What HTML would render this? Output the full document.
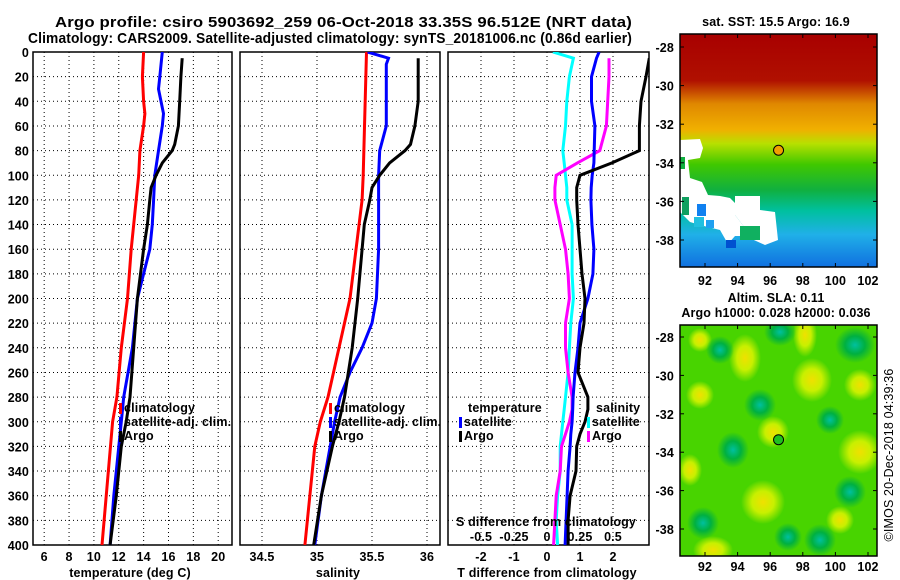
<!DOCTYPE html>
<html><head><meta charset="utf-8">
<style>
html,body{margin:0;padding:0;background:#fff;}
svg{display:block;font-family:"Liberation Sans",sans-serif;font-weight:bold;}
</style></head>
<body>
<svg id="chart" width="900" height="580" viewBox="0 0 900 580" xmlns="http://www.w3.org/2000/svg">
<defs>
<clipPath id="c1"><rect x="33" y="52" width="199" height="493"/></clipPath>
<clipPath id="c2"><rect x="240" y="52" width="200" height="493"/></clipPath>
<clipPath id="c3"><rect x="448" y="52" width="201" height="493"/></clipPath>
<clipPath id="cm1"><rect x="680" y="34" width="197" height="233"/></clipPath>
<clipPath id="cm2"><rect x="680" y="325" width="197" height="231"/></clipPath>
<linearGradient id="sst" x1="0" y1="0" x2="0" y2="1">
<stop offset="0" stop-color="#a80000"/><stop offset="0.2" stop-color="#b01000"/>
<stop offset="0.3" stop-color="#e08800"/><stop offset="0.41" stop-color="#f0b000"/>
<stop offset="0.47" stop-color="#b8e000"/><stop offset="0.56" stop-color="#40c800"/>
<stop offset="0.67" stop-color="#10b040"/><stop offset="0.76" stop-color="#00c0a0"/>
<stop offset="0.86" stop-color="#20b0e8"/><stop offset="1" stop-color="#1070e0"/></linearGradient>
<radialGradient id="yb"><stop offset="0" stop-color="#f0e000"/><stop offset="0.5" stop-color="#c8f000"/><stop offset="1" stop-color="#c8f000" stop-opacity="0"/></radialGradient>
<radialGradient id="tb"><stop offset="0" stop-color="#00c0a0"/><stop offset="0.5" stop-color="#00b040"/><stop offset="1" stop-color="#00b040" stop-opacity="0"/></radialGradient>
</defs>
<g id="root"></g>
</svg>
<script>
// ---- data ----
const depthTClim = [0,20,40,50,60,80,100,120,160,200,240,280,300,400];
const tempClim   = [14.0,13.9,14.0,14.1,14.0,13.7,13.6,13.4,13.0,12.7,12.2,11.85,11.5,10.65];
const depthTSat  = [0,20,30,50,60,80,100,120,140,160,200,240,280,300,320,360,400];
const tempSat    = [15.5,15.3,15.2,15.6,15.5,15.2,14.9,14.8,14.7,14.5,13.5,13.1,12.4,12.2,12.0,11.6,11.3];
const depthTArgo = [5,20,40,60,75,80,90,100,110,120,140,160,200,240,280,300,320,360,400];
const tempArgo   = [17.1,17.0,16.9,16.8,16.5,16.3,15.5,15.0,14.6,14.5,14.3,14.0,13.5,13.2,12.9,12.6,12.2,11.8,11.3];

const depthSClim = [0,100,120,200,280,300,320,400];
const salClim    = [35.45,35.42,35.41,35.3,35.1,35.03,34.98,34.89];
const depthSSat  = [0,5,10,20,60,70,80,100,160,200,220,240,260,280,300,320,360,400];
const salSat     = [35.46,35.65,35.63,35.63,35.63,35.6,35.57,35.56,35.56,35.54,35.5,35.41,35.3,35.21,35.16,35.12,35.04,34.98];
const depthSArgo = [5,40,60,75,80,90,100,110,120,140,160,200,240,280,300,320,360,400];
const salArgo    = [35.92,35.92,35.89,35.85,35.8,35.66,35.57,35.5,35.48,35.43,35.41,35.37,35.32,35.25,35.2,35.14,35.04,34.97];

const depthDiff  = [0,5,20,40,60,80,90,100,110,120,140,160,180,200,220,240,260,280,290,300,310,320,340,360,380,400];
const dSsat  = [0.045,0.2,0.17,0.15,0.14,0.12,0.13,0.14,0.15,0.15,0.19,0.19,0.19,0.2,0.18,0.17,0.16,0.14,0.13,0.12,0.11,0.1,0.1,0.08,0.07,0.08];
const dSargo = [null,0.47,0.47,0.46,0.45,0.4,0.23,0.07,0.06,0.06,0.1,0.14,0.16,0.17,0.14,0.14,0.16,0.19,0.19,0.17,0.14,0.11,0.1,0.07,0.06,0.05];
const dTsat  = [1.58,1.5,1.35,1.35,1.45,1.43,1.42,1.37,1.34,1.33,1.36,1.42,1.39,1.24,1.0,0.94,0.85,0.79,0.78,0.76,0.72,0.7,0.64,0.61,0.58,0.55];
const dTargo = [null,3.1,3.0,2.85,2.8,2.8,1.97,1.0,0.9,0.9,0.94,1.0,1.06,1.15,1.12,1.0,0.94,1.24,1.24,1.15,1.0,0.9,0.88,0.7,0.64,0.64];

const depthTicks = [0,20,40,60,80,100,120,140,160,180,200,220,240,260,280,300,320,340,360,380,400];
const tTicks = [6,8,10,12,14,16,18,20];
const sTicks = [34.5,35,35.5,36];
const dTTicks = [-2,-1,0,1,2];
const dSTicks = [-0.5,-0.25,0,0.25,0.5];
const dSTickLabels = ["-0.5","-0.25","0","0.25","0.5"];
const latTicks = [-28,-30,-32,-34,-36,-38];
const lonTicks = [92,94,96,98,100,102];

// ---- scales ----
const yD = d => 52 + d*(493/400);
const xT = t => 33 + (t-5.1)*12.43;
const xS = s => 240 + (s-34.3)*110;
const xDT = t => 547 + t*33;
const xDS = s => 547 + s*132;
const xLon = l => 705 + (l-92)*16.3;
const yLat1 = l => 47 + (-28-l)*19.3;
const yLat2 = l => 337 + (-28-l)*19.2;

const NS="http://www.w3.org/2000/svg";
const root=document.getElementById('root');
function el(tag,attrs,parent){const e=document.createElementNS(NS,tag);for(const k in attrs)e.setAttribute(k,attrs[k]);(parent||root).appendChild(e);return e;}
function txt(x,y,s,size,anchor,parent){const t=el('text',{x:x,y:y,'font-size':size,'letter-spacing':0.15,'text-anchor':anchor||'middle'},parent);t.textContent=s;return t;}

// titles
let t=txt(343.5,27,"Argo profile: csiro 5903692_259 06-Oct-2018 33.35S 96.512E (NRT data)",15);
t.setAttribute('textLength','577');t.setAttribute('lengthAdjust','spacingAndGlyphs');


t=txt(330,43,"Climatology: CARS2009. Satellite-adjusted climatology: synTS_20181006.nc (0.86d earlier)",15);
t.setAttribute('textLength','604');t.setAttribute('lengthAdjust','spacingAndGlyphs');



function panel(name,x0,x1,xTicks,xf){
  const g=el('g',{});
  
  
  depthTicks.forEach(d=>{el('line',{x1:x0,x2:x1,y1:yD(d),y2:yD(d),stroke:'#000','stroke-width':1,'stroke-dasharray':'1,3'},g);});
  xTicks.forEach(v=>{el('line',{x1:xf(v),x2:xf(v),y1:52,y2:545,stroke:'#000','stroke-width':1,'stroke-dasharray':'1,3'},g);});
  el('rect',{x:x0,y:52,width:x1-x0,height:493,fill:'none',stroke:'#000','stroke-width':1.5},g);
  return g;
}
function line(g,depths,vals,xf,color,clip,name){
  let pts=[];depths.forEach((d,i)=>{if(vals[i]!==null&&vals[i]!==undefined)pts.push(xf(vals[i]).toFixed(1)+','+yD(d).toFixed(1));});
  const p=el('polyline',{points:pts.join(' '),fill:'none',stroke:color,'stroke-width':3,'clip-path':'url(#'+clip+')'},g);
  
  
}
function legend(g,x,y,items){
  items.forEach((it,i)=>{
    el('rect',{x:x,y:y+i*14-9,width:3,height:11,fill:it[1]},g);
    txt(x+5,y+i*14,it[0],12.5,'start',g);
  });
}

// panel 1
const g1=panel('temperature-panel',33,232,tTicks,xT);
depthTicks.forEach(d=>txt(29,yD(d)+5,String(d),12.5,'end',g1));
tTicks.forEach(v=>txt(xT(v),561,String(v),12.5,'middle',g1));
txt(130,577,"temperature (deg C)",12.5,'middle',g1);
line(g1,depthTClim,tempClim,xT,'#ff0000','c1','temp-climatology-line');
line(g1,depthTSat,tempSat,xT,'#0000ff','c1','temp-satellite-line');
line(g1,depthTArgo,tempArgo,xT,'#000','c1','temp-argo-line');
legend(g1,119,412,[["climatology","#ff0000"],["satellite-adj. clim.","#0000ff"],["Argo","#000"]]);

// panel 2
const g2=panel('salinity-panel',240,440,sTicks,xS);
sTicks.forEach(v=>txt(xS(v),561,String(v),12.5,'middle',g2));
txt(338,577,"salinity",12.5,'middle',g2);
line(g2,depthSClim,salClim,xS,'#ff0000','c2','sal-climatology-line');
line(g2,depthSSat,salSat,xS,'#0000ff','c2','sal-satellite-line');
line(g2,depthSArgo,salArgo,xS,'#000','c2','sal-argo-line');
legend(g2,329,412,[["climatology","#ff0000"],["satellite-adj. clim.","#0000ff"],["Argo","#000"]]);

// panel 3
const g3=panel('difference-panel',448,649,dTTicks,xDT);
dTTicks.forEach(v=>txt(xDT(v),561,String(v),12.5,'middle',g3));
txt(547,577,"T difference from climatology",12.5,'middle',g3);
line(g3,depthDiff,dSsat,xDS,'#00ffff','c3','sal-diff-satellite-line');
line(g3,depthDiff,dSargo,xDS,'#ff00ff','c3','sal-diff-argo-line');
line(g3,depthDiff,dTsat,xDT,'#0000ff','c3','temp-diff-satellite-line');
line(g3,depthDiff,dTargo,xDT,'#000','c3','temp-diff-argo-line');
txt(546,526,"S difference from climatology",12.5,'middle',g3);
dSTicks.forEach((v,i)=>txt(xDS(v),541,dSTickLabels[i],12.5,'middle',g3));
txt(468,412,"temperature",12.5,'start',g3);
legend(g3,459,426,[["satellite","#0000ff"],["Argo","#000"]]);
txt(596,412,"salinity",12.5,'start',g3);
legend(g3,587,426,[["satellite","#00ffff"],["Argo","#ff00ff"]]);

// maps
function mapAxes(g,top,bottom,yl,labelY){
  el('rect',{x:680,y:top,width:197,height:bottom-top,fill:'none',stroke:'#000','stroke-width':1.5},g);
  latTicks.forEach(l=>{txt(674,yl(l)+5,String(l),12.5,'end',g);
    el('line',{x1:680,x2:684,y1:yl(l),y2:yl(l),stroke:'#000'},g);el('line',{x1:873,x2:877,y1:yl(l),y2:yl(l),stroke:'#000'},g);});
  lonTicks.forEach(l=>{txt(xLon(l),labelY,String(l),12.5,'middle',g);
    el('line',{x1:xLon(l),x2:xLon(l),y1:bottom,y2:bottom-4,stroke:'#000'},g);el('line',{x1:xLon(l),x2:xLon(l),y1:top,y2:top+4,stroke:'#000'},g);});
}
const m1=el('g',{});


txt(776,26,"sat. SST: 15.5 Argo: 16.9",12.5,'middle',m1);
const mi=el('g',{'clip-path':'url(#cm1)'},m1);
el('rect',{x:680,y:34,width:197,height:233,fill:'url(#sst)'},mi);
el('path',{d:'M680,140 L700,139 L703,148 L700,158 L688,160 L690,178 L702,182 L708,195 L720,196 L730,198 L737,205 L735,215 L745,228 L745,236 L735,236 L728,244 L720,230 L700,225 L690,222 L680,212 Z',fill:'#fff'},mi);
el('path',{d:'M735,196 L760,196 L760,210 L775,212 L778,240 L765,245 L745,236 L745,228 L735,215 Z',fill:'#fff'},mi);
el('rect',{x:680,y:157,width:5,height:12,fill:'#10b040'},mi);
el('rect',{x:682,y:197,width:7,height:18,fill:'#10a060'},mi);
el('rect',{x:697,y:204,width:9,height:12,fill:'#1080f0'},mi);
el('rect',{x:694,y:217,width:10,height:10,fill:'#20c0e0'},mi);
el('rect',{x:706,y:220,width:8,height:8,fill:'#20a0f0'},mi);
el('rect',{x:740,y:226,width:20,height:14,fill:'#10b060'},mi);
el('rect',{x:726,y:240,width:10,height:8,fill:'#0050d0'},mi);
mapAxes(m1,34,267,yLat1,285);
el('circle',{cx:xLon(96.512),cy:yLat1(-33.35),r:5,fill:'#f0a000',stroke:'#000','stroke-width':1},m1);

const m2=el('g',{});


txt(776,302,"Altim. SLA: 0.11",12.5,'middle',m2);
txt(776,317,"Argo h1000: 0.028 h2000: 0.036",12.5,'middle',m2);
const mj=el('g',{'clip-path':'url(#cm2)'},m2);
el('rect',{x:680,y:325,width:197,height:231,fill:'#48d400'},mj);
[[745,358,16,24],[812,380,20,22],[805,335,12,22],[763,502,22,22],[773,432,16,16],[860,452,22,22],[713,550,20,14],[690,470,12,16],[860,385,16,16],[700,395,14,14],[840,520,14,14],[700,340,12,12]].forEach(b=>el('ellipse',{cx:b[0],cy:b[1],rx:b[2],ry:b[3],fill:'url(#yb)'},mj));
[[780,332,16,14],[855,345,20,18],[760,405,16,16],[733,450,16,18],[850,492,16,16],[703,523,16,16],[820,540,16,16],[788,537,14,14],[720,350,14,14],[830,420,14,14]].forEach(b=>el('ellipse',{cx:b[0],cy:b[1],rx:b[2],ry:b[3],fill:'url(#tb)'},mj));
mapAxes(m2,325,556,yLat2,571);
el('circle',{cx:xLon(96.512),cy:yLat2(-33.35),r:5,fill:'#20c020',stroke:'#000','stroke-width':1},m2);

const cr=txt(0,0,"©IMOS 20-Dec-2018 04:39:36",12.5,'middle');
cr.setAttribute('transform','translate(893,455) rotate(-90)');
cr.setAttribute('font-weight','normal');


</script>
</body></html>
